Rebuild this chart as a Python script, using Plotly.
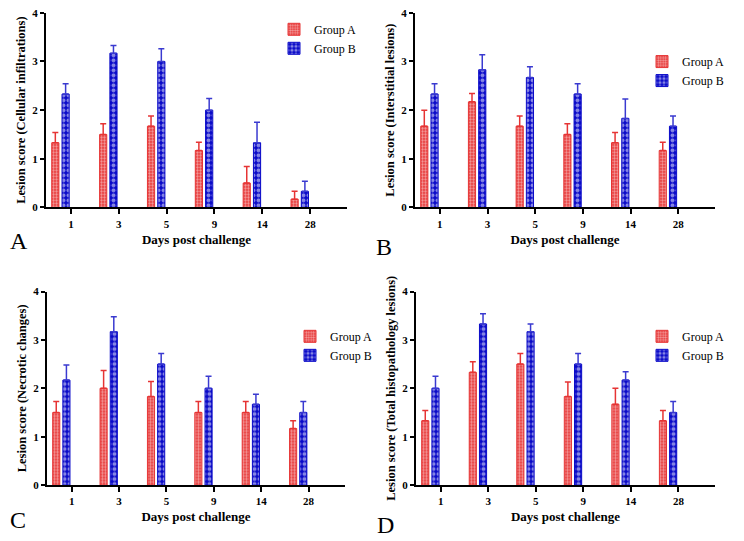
import plotly.graph_objects as go

days = ["1", "3", "5", "9", "14", "28"]

# Pannello A - infiltrazioni cellulari
a_mean_A = [1.33, 1.5, 1.67, 1.17, 0.5, 0.17]
a_err_A = [0.21, 0.22, 0.21, 0.17, 0.34, 0.16]
a_mean_B = [2.33, 3.17, 3.0, 2.0, 1.33, 0.33]
a_err_B = [0.21, 0.16, 0.26, 0.24, 0.42, 0.21]

# Pannello B - lesioni interstiziali
b_mean_A = [1.67, 2.17, 1.67, 1.5, 1.33, 1.17]
b_err_A = [0.33, 0.17, 0.21, 0.22, 0.21, 0.17]
b_mean_B = [2.33, 2.83, 2.67, 2.33, 1.83, 1.67]
b_err_B = [0.21, 0.31, 0.22, 0.21, 0.4, 0.21]

# Pannello C - alterazioni necrotiche
c_mean_A = [1.5, 2.0, 1.83, 1.5, 1.5, 1.17]
c_err_A = [0.23, 0.37, 0.31, 0.23, 0.23, 0.16]
c_mean_B = [2.17, 3.17, 2.5, 2.0, 1.67, 1.5]
c_err_B = [0.31, 0.31, 0.22, 0.25, 0.21, 0.23]

# Pannello D - lesioni istopatologiche totali
d_mean_A = [1.33, 2.33, 2.5, 1.83, 1.67, 1.33]
d_err_A = [0.21, 0.22, 0.22, 0.3, 0.33, 0.21]
d_mean_B = [2.0, 3.33, 3.17, 2.5, 2.17, 1.5]
d_err_B = [0.25, 0.21, 0.16, 0.22, 0.17, 0.23]

y_titles = [
    "Lesion score (Cellular infiltrations)",
    "Lesion score (Interstitial lesions)",
    "Lesion score (Necrotic changes)",
    "Lesion score (Total histopathology lesions)",
]
letters = ["A", "B", "C", "D"]

panels = [
    (a_mean_A, a_err_A, a_mean_B, a_err_B),
    (b_mean_A, b_err_A, b_mean_B, b_err_B),
    (c_mean_A, c_err_A, c_mean_B, c_err_B),
    (d_mean_A, d_err_A, d_mean_B, d_err_B),
]

W, H = 744, 541
SERIF = "Liberation Serif"
RED = "#e63434"
BLUE = "#0a0ac8"

# domini in pixel: (x0, x1, ytop, ybottom)
boxes = [(46, 347, 7, 206), (415, 715, 7, 206), (47, 345, 292, 490), (416, 715, 292, 490)]
legend_pos = [(274, 9), (642, 42), (290, 323), (642, 323)]
letter_pos = [(8, 240), (374, 246), (8, 526), (375, 531)]

fig = go.Figure()

for i, (mA, eA, mB, eB) in enumerate(panels):
    n = "" if i == 0 else str(i + 1)
    xa, ya = "x" + n, "y" + n
    leg = "legend" + n
    fig.add_trace(go.Bar(
        x=days, y=mA, name="Group A", xaxis=xa, yaxis=ya, legend=leg,
        offset=-0.40, width=0.15,
        marker=dict(color=RED, line=dict(color=RED, width=1),
                    pattern=dict(shape=".", fgcolor="white", bgcolor=RED, size=3, solidity=0.5)),
        error_y=dict(type="data", array=eA, arrayminus=[0] * len(eA), symmetric=False,
                     color=RED, thickness=1.5, width=3),
    ))
    fig.add_trace(go.Bar(
        x=days, y=mB, name="Group B", xaxis=xa, yaxis=ya, legend=leg,
        offset=-0.185, width=0.15,
        marker=dict(color=BLUE, line=dict(color=BLUE, width=1),
                    pattern=dict(shape=".", fgcolor="white", bgcolor=BLUE, size=5, solidity=0.5)),
        error_y=dict(type="data", array=eB, arrayminus=[0] * len(eB), symmetric=False,
                     color="#3a3ad0", thickness=1.5, width=3),
    ))

    x0, x1, yt, yb = boxes[i]
    axis_common = dict(showline=True, linecolor="black", linewidth=2, ticks="outside",
                       tickcolor="black", tickwidth=2, showgrid=False, zeroline=False)
    fig.update_layout(**{
        "xaxis" + n: dict(domain=[x0 / W, x1 / W], anchor=ya, type="category",
                          range=[-0.52, 5.77], ticklen=5,
                          tickfont=dict(family=SERIF, size=11, color="black", weight="bold"),
                          title=dict(text="Days post challenge", standoff=6,
                                     font=dict(family=SERIF, size=13, color="black", weight="bold")),
                          **axis_common),
        "yaxis" + n: dict(domain=[1 - yb / H, 1 - yt / H], anchor=xa, range=[0, 4], dtick=1,
                          ticklen=4,
                          tickfont=dict(family=SERIF, size=11, color="black", weight="bold"),
                          title=dict(text=y_titles[i], standoff=4,
                                     font=dict(family=SERIF, size=12.5, color="black", weight="bold")),
                          **axis_common),
        leg: dict(x=legend_pos[i][0] / W, y=1 - legend_pos[i][1] / H, xanchor="left", yanchor="top",
                  bgcolor="rgba(0,0,0,0)", font=dict(family=SERIF, size=12, color="black")),
    })
    fig.add_annotation(text=letters[i], x=letter_pos[i][0] / W, y=1 - letter_pos[i][1] / H,
                       xref="paper", yref="paper", showarrow=False, xanchor="left", yanchor="middle",
                       font=dict(family=SERIF, size=24, color="black"))

fig.update_layout(
    width=W, height=H,
    margin=dict(l=0, r=0, t=0, b=0),
    plot_bgcolor="white", paper_bgcolor="white",
    showlegend=True,
)

fig.write_html("out.html", config={"displayModeBar": False},
               post_script="document.body.style.margin = '0px';")
